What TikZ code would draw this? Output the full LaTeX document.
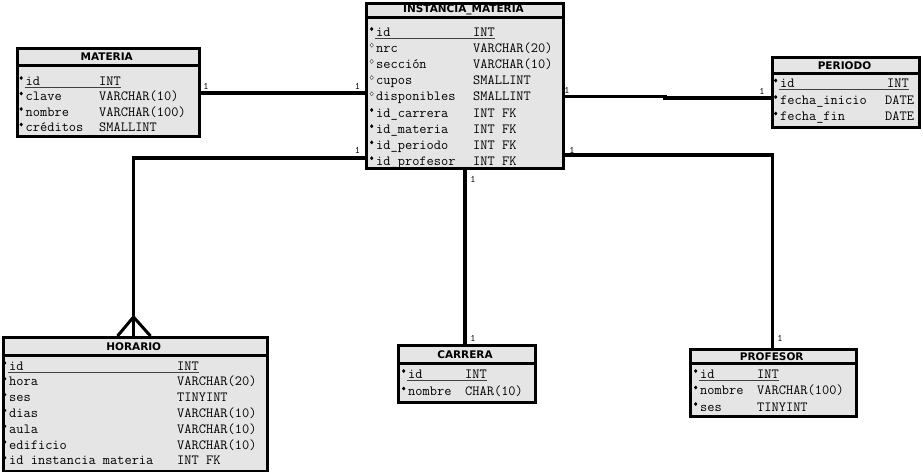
\documentclass[tikz,border=0pt]{standalone}
\usepackage{fontspec}
\usetikzlibrary{calc}
\newfontfamily\erHead{DejaVu Sans}

\tikzset{
  tbl/.style={draw=black, line width=3pt, fill=black!10, inner sep=0pt, anchor=north west},
  sepline/.style={line width=3pt},
  ttl/.style={font=\erHead\bfseries\fontsize{10.5}{12}\selectfont, inner sep=0pt},
  fld/.style={anchor=base west, inner sep=0pt, font=\ttfamily\fontsize{14}{16}\selectfont},
  rel/.style={line width=3.5pt},
  crow/.style={line width=3pt},
  card/.style={font=\ttfamily\fontsize{10}{11}\selectfont, inner sep=0pt},
  pkline/.style={line width=1pt, draw=black!75},
  dotfull/.style={fill=black},
  dotopen/.style={draw=black!60, line width=0.6pt, fill=white},
}

% table frame: #1 name, #2..#5 corners, #6 y of title rule, #7 title
\newcommand\ertable[7]{%
  \node[tbl, minimum width={#4-#2}, minimum height={#5-#3}] (#1) at (#2,#3) {};
  \draw[sepline] (#2,#6) -- (#4,#6);
  \node[ttl] (#1-title) at ({(#2+#4)/2},{(#3+#6)/2+0.5}) {#7};
}
% field row: #1 prefix, #2 bullet style, #3 name x, #4 type x, #5 baseline, #6 name, #7 type
\newcommand\errow[7]{%
  \path[#2] ({#3-4.3},{#5-9}) -- ({#3-2.6},{#5-7}) -- ({#3-4.3},{#5-5}) -- ({#3-6},{#5-7}) -- cycle;
  \node[fld] (#1-n) at (#3,#5) {#6};
  \node[fld] (#1-t) at (#4,#5) {#7};
}
\newcommand\pkunder[1]{%
  \draw[pkline] ([xshift=-1pt,yshift=-2pt]#1-n.base west) -- ([yshift=-2pt]#1-t.base east);
}

\begin{document}
\begin{tikzpicture}[x=1pt,y=-1pt]
\fill[white] (0,0) rectangle (923,471);
\useasboundingbox (0,0) rectangle (923,471);

% ---------------- MATERIA
\ertable{materia}{15.5}{46.5}{198}{135}{65.5}{MATERIA}
\errow{ma1}{dotfull}{25.5}{99}{85}{id}{INT}
\pkunder{ma1}
\errow{ma2}{dotfull}{25.5}{99}{100.5}{clave}{VARCHAR(10)}
\errow{ma3}{dotfull}{25.5}{99}{116}{nombre}{VARCHAR(100)}
\errow{ma4}{dotfull}{25.5}{99}{131.5}{créditos}{SMALLINT}

% ---------------- INSTANCIA_MATERIA
\ertable{instancia}{365}{2}{562}{167}{17}{INSTANCIA\_MATERIA}
\errow{im1}{dotfull}{376}{473}{36}{id}{INT}
\pkunder{im1}
\errow{im2}{dotopen}{376}{473}{52.2}{nrc}{VARCHAR(20)}
\errow{im3}{dotopen}{376}{473}{68.4}{sección}{VARCHAR(10)}
\errow{im4}{dotopen}{376}{473}{84.6}{cupos}{SMALLINT}
\errow{im5}{dotopen}{376}{473}{100.8}{disponibles}{SMALLINT}
\errow{im6}{dotfull}{376}{473}{117}{id\_carrera}{INT FK}
\errow{im7}{dotfull}{376}{473}{133.2}{id\_materia}{INT FK}
\errow{im8}{dotfull}{376}{473}{149.4}{id\_periodo}{INT FK}
\errow{im9}{dotfull}{376}{473}{165.2}{id\_profesor}{INT FK}

% ---------------- PERIODO
\ertable{periodo}{771}{56}{918}{125.5}{73.5}{PERIODO}
\errow{pe1}{dotfull}{780}{887}{87.5}{id}{INT}
\pkunder{pe1}
\errow{pe2}{dotfull}{780}{885}{104}{fecha\_inicio}{DATE}
\errow{pe3}{dotfull}{780}{885}{120.5}{fecha\_fin}{DATE}

% ---------------- HORARIO
\ertable{horario}{1.5}{336}{266}{469.5}{355.5}{HORARIO}
\errow{ho1}{dotfull}{9}{177}{370}{id}{INT}
\pkunder{ho1}
\errow{ho2}{dotfull}{9}{177}{385.8}{hora}{VARCHAR(20)}
\errow{ho3}{dotfull}{9}{177}{401.6}{ses}{TINYINT}
\errow{ho4}{dotfull}{9}{177}{417.4}{dias}{VARCHAR(10)}
\errow{ho5}{dotfull}{9}{177}{433.2}{aula}{VARCHAR(10)}
\errow{ho6}{dotfull}{9}{177}{449}{edificio}{VARCHAR(10)}
\errow{ho7}{dotfull}{9}{177}{464.8}{id instancia materia}{INT FK}

% ---------------- CARRERA
\ertable{carrera}{396.5}{344}{533.5}{401}{363.5}{CARRERA}
\errow{ca1}{dotfull}{408}{465}{378}{id}{INT}
\pkunder{ca1}
\errow{ca2}{dotfull}{408}{465}{395.5}{nombre}{CHAR(10)}

% ---------------- PROFESOR
\ertable{profesor}{688.5}{348}{855}{415}{363.5}{PROFESOR}
\errow{pr1}{dotfull}{700}{757}{378}{id}{INT}
\pkunder{pr1}
\errow{pr2}{dotfull}{700}{757}{394.5}{nombre}{VARCHAR(100)}
\errow{pr3}{dotfull}{700}{757}{411}{ses}{TINYINT}

% ---------------- relationships
\coordinate (jm) at (0,93);
\draw[rel] (materia.east |- jm) -- (instancia.west |- jm);

\coordinate (jp1) at (665,96.5);
\coordinate (jp2) at (665,98);
\draw[rel] (instancia.east |- jp1) -- (jp1) -- (jp2) -- (periodo.west |- jp2);

\coordinate (jh) at (133.5,158);
\draw[rel] (instancia.west |- jh) -- (jh) -- (jh |- horario.north);
\coordinate (cf) at (133.5,317);
\draw[crow] ($(jh |- horario.north)+(-16,0)$) -- (cf) -- ($(jh |- horario.north)+(17,0)$);

\coordinate (jc) at (465,0);
\draw[rel] (jc |- instancia.south) -- (jc |- carrera.north);

\coordinate (jf) at (772.5,155);
\draw[rel] (instancia.east |- jf) -- (jf) -- (jf |- profesor.north);

% cardinalities
\node[card] (k1) at (206,86) {1};
\node[card] (k2) at (357.5,86) {1};
\node[card] (k3) at (567,90) {1};
\node[card] (k4) at (762,91.5) {1};
\node[card] (k5) at (357.5,150.5) {1};
\node[card] (k6) at (572,150.5) {1};
\node[card] (k7) at (473,179) {1};
\node[card] (k8) at (473,338.5) {1};
\node[card] (k9) at (780,338) {1};
\end{tikzpicture}
\end{document}
